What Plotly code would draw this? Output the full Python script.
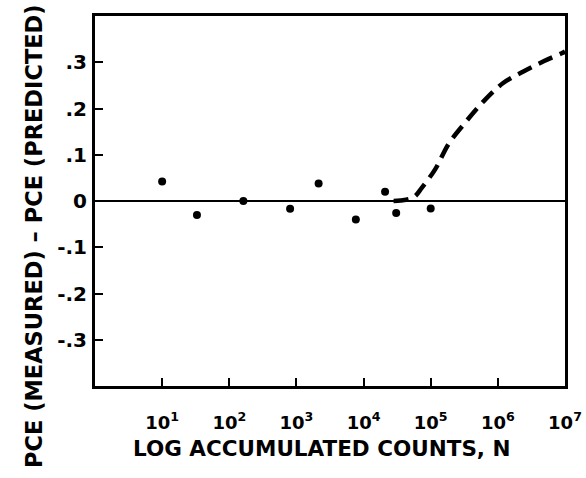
import plotly.graph_objects as go

# Measured points
point_counts = [10, 33, 162, 805, 2140, 7670, 20900, 30600, 100000]
point_diff = [0.042, -0.030, 0.0, -0.017, 0.038, -0.040, 0.020, -0.026, -0.016]

# Dashed trend curve
curve_counts = [28000, 35500, 55600, 74000, 117000, 184000, 324000, 617000,
                1200000, 2400000, 4800000, 9100000, 10000000]
curve_diff = [0.0, 0.001, 0.008, 0.029, 0.069, 0.123, 0.169, 0.216,
              0.255, 0.280, 0.302, 0.320, 0.323]

x_tickvals = [10, 100, 1000, 10000, 100000, 1000000, 10000000]
x_ticktext = ["10<sup>1</sup>", "10<sup>2</sup>", "10<sup>3</sup>", "10<sup>4</sup>",
              "10<sup>5</sup>", "10<sup>6</sup>", "10<sup>7</sup>"]
y_tickvals = [0.3, 0.2, 0.1, 0, -0.1, -0.2, -0.3]
y_ticktext = [".3", ".2", ".1", "0", "-.1", "-.2", "-.3"]

fig = go.Figure()
fig.add_trace(go.Scatter(
    x=curve_counts, y=curve_diff, mode="lines",
    line=dict(color="black", width=4.5, dash="15px,8px", shape="spline"),
    showlegend=False, hoverinfo="skip"))
fig.add_trace(go.Scatter(
    x=point_counts, y=point_diff, mode="markers",
    marker=dict(color="black", size=8),
    showlegend=False))

fig.update_layout(
    width=586, height=478,
    margin=dict(l=95, r=21, t=16, b=92),
    paper_bgcolor="white", plot_bgcolor="white",
    font=dict(family="DejaVu Sans", color="black"),
    xaxis=dict(type="log", range=[0, 7], tickvals=x_tickvals, ticktext=x_ticktext,
               ticks="inside", ticklen=8, tickwidth=2, tickcolor="black",
               showline=True, linecolor="black", linewidth=3, mirror=True,
               showgrid=False, zeroline=False, automargin=False,
               tickfont=dict(family="DejaVu Sans", size=18, color="black", weight="bold"),
               ticklabelstandoff=18),
    yaxis=dict(range=[-0.4, 0.4], tickvals=y_tickvals, ticktext=y_ticktext,
               ticks="inside", ticklen=8, tickwidth=2, tickcolor="black",
               showline=True, linecolor="black", linewidth=3, mirror=True,
               showgrid=False, zeroline=True, zerolinecolor="black", zerolinewidth=2,
               automargin=False,
               tickfont=dict(family="DejaVu Sans", size=20, color="black", weight="bold"),
               ticklabelstandoff=1),
    annotations=[
        dict(text="PCE (MEASURED) – PCE (PREDICTED)", textangle=-90,
             xref="paper", yref="paper", x=-0.13, y=0.405,
             xanchor="center", yanchor="middle", showarrow=False,
             font=dict(family="DejaVu Sans", size=22.5, color="black", weight="bold")),
        dict(text="LOG ACCUMULATED COUNTS, N",
             xref="paper", yref="paper", x=0.483, y=-0.1676,
             xanchor="center", yanchor="middle", showarrow=False,
             font=dict(family="DejaVu Sans", size=21.5, color="black", weight="bold")),
    ],
)

fig.write_html("out.html", config={"displayModeBar": False},
               post_script="document.body.style.margin='0';")
